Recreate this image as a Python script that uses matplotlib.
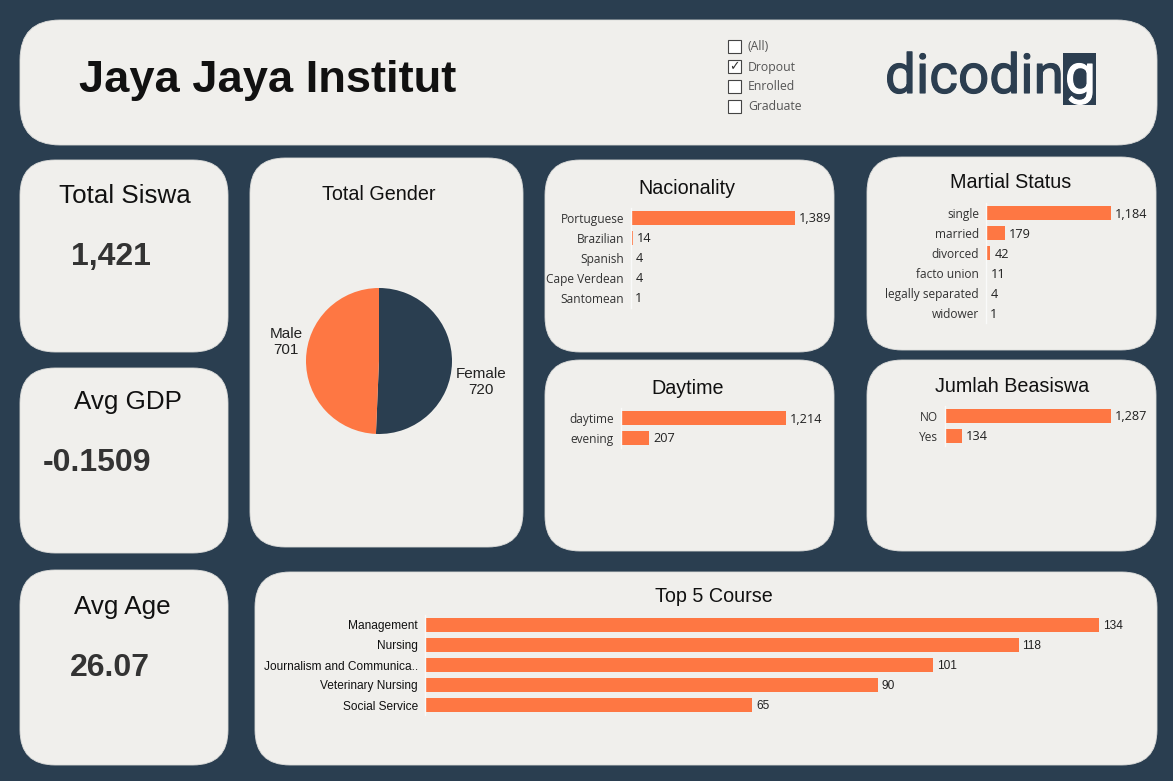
import matplotlib
matplotlib.use("Agg")
import matplotlib.pyplot as plt
import matplotlib.patheffects as pe
from matplotlib.patches import FancyBboxPatch, Rectangle

# ---------------- data ----------------
title_text = "Jaya Jaya Institut"
filter_items = ["(All)", "Dropout", "Enrolled", "Graduate"]
filter_checked = [False, True, False, False]

kpi_titles = ["Total Siswa", "Avg GDP", "Avg Age"]
kpi_values = ["1,421", "-0.1509", "26.07"]

gender_cats = ["Female", "Male"]
gender_vals = [720, 701]

nation_cats = ["Portuguese", "Brazilian", "Spanish", "Cape Verdean", "Santomean"]
nation_vals = [1389, 14, 4, 4, 1]

marital_cats = ["single", "married", "divorced", "facto union", "legally separated", "widower"]
marital_vals = [1184, 179, 42, 11, 4, 1]

daytime_cats = ["daytime", "evening"]
daytime_vals = [1214, 207]

beasiswa_cats = ["NO", "Yes"]
beasiswa_vals = [1287, 134]

course_cats = ["Management", "Nursing", "Journalism and Communica..", "Veterinary Nursing", "Social Service"]
course_vals = [134, 118, 101, 90, 65]

# ---------------- style ----------------
W, H = 1173, 781
NAVY = "#2a3e50"
CARD = "#f0efec"
ORANGE = "#fe7743"
ARIAL = ["Liberation Sans", "DejaVu Sans"]
TAB = ["Open Sans", "DejaVu Sans"]
LOGO = ["Roboto", "DejaVu Sans"]

fig = plt.figure(figsize=(W / 100, H / 100), dpi=100)
fig.patch.set_facecolor(NAVY)
bg = fig.add_axes([0, 0, 1, 1])
bg.set_xlim(0, W)
bg.set_ylim(H, 0)
bg.axis("off")
bg.set_zorder(0)


def card(x0, y0, x1, y1, r=35):
    bg.add_patch(FancyBboxPatch((x0, y0), x1 - x0, y1 - y0,
                                boxstyle=f"round,pad=0,rounding_size={r}",
                                fc=CARD, ec="#dcdcda", lw=0.6))


# cards
card(20, 20, 1157, 145, 40)
card(20, 160, 228, 352)
card(20, 368, 228, 553)
card(20, 570, 228, 765)
card(250, 158, 523, 547)
card(545, 160, 834, 352)
card(545, 360, 834, 551)
card(867, 157, 1156, 350)
card(867, 360, 1156, 551)
card(255, 572, 1157, 765)

# header
bg.text(268, 92, title_text, fontsize=32.6, fontweight="bold", family=ARIAL,
        color="#111111", ha="center", va="baseline")
for i, (lab, chk) in enumerate(zip(filter_items, filter_checked)):
    yc = 46 + 20 * i
    bg.add_patch(Rectangle((728, yc - 6.5), 13, 13, fc="white", ec="#444444", lw=0.8))
    if chk:
        bg.text(734.5, yc + 0.5, "\u2713", fontsize=9, color="#333333",
                ha="center", va="center", family=["DejaVu Sans"])
    bg.text(748, yc + 1, lab, fontsize=8.8, color="#555555", ha="left", va="center", family=TAB)

# logo
LOGO_C = "#2c3e50"
bg.text(885, 93, "dicodin", fontsize=39.5, color=LOGO_C, ha="left", va="baseline",
        family=LOGO, fontweight="normal",
        path_effects=[pe.withStroke(linewidth=0.8, foreground=LOGO_C)])
bg.add_patch(Rectangle((1063, 53), 33, 52, fc=LOGO_C, ec="none"))
bg.text(1065, 93, "g", fontsize=39.5, color="white", ha="left", va="baseline",
        family=LOGO, fontweight="normal",
        path_effects=[pe.withStroke(linewidth=0.8, foreground="white")])

# KPI cards
kpi_title_pos = [(125, 196), (128, 402), (122, 607)]
kpi_val_pos = [(111, 257), (97, 463), (110, 668)]
for t, v, tp, vp in zip(kpi_titles, kpi_values, kpi_title_pos, kpi_val_pos):
    bg.text(tp[0], tp[1], t, fontsize=18.7, family=ARIAL, color="#111111",
            ha="center", va="center")
    bg.text(vp[0], vp[1], v, fontsize=23, fontweight="bold", family=ARIAL,
            color="#333333", ha="center", va="center")

# section titles
for txt, x, y in [("Total Gender", 379, 195), ("Nacionality", 687, 188),
                  ("Daytime", 688, 388), ("Martial Status", 1011, 183),
                  ("Jumlah Beasiswa", 1012, 386), ("Top 5 Course", 714, 596)]:
    bg.text(x, y, txt, fontsize=14.2, family=ARIAL, color="#111111",
            ha="center", va="center")

# pie
pr = 73
pax = fig.add_axes([(379 - pr) / W, 1 - (361 + pr) / H, 2 * pr / W, 2 * pr / H])
pax.pie(gender_vals, colors=[NAVY, ORANGE], startangle=90, counterclock=False,
        wedgeprops=dict(lw=0))
pax.set_xlim(-1, 1)
pax.set_ylim(-1, 1)
pax.axis("off")
for cat, val, (x, y) in zip(gender_cats, gender_vals, [(481, 382), (286, 342)]):
    bg.text(x, y, f"{cat}\n{val}", fontsize=11, family=ARIAL, color="#222222",
            ha="center", va="center", linespacing=1.15)


def bars(x_start, y_first, px_per_unit, span_px, cats, vals,
         lab_family, lab_fs, val_family, val_fs, lab_color="#333333", bh=0.7):
    n = len(cats)
    top = y_first - 10
    height = 20 * n
    ax = fig.add_axes([x_start / W, 1 - (top + height) / H, span_px / W, height / H])
    ax.patch.set_alpha(0)
    ax.barh(range(n), vals, height=bh, color=ORANGE)
    ax.set_xlim(0, span_px / px_per_unit)
    ax.set_ylim(n - 0.5, -0.5)
    ax.set_yticks(range(n))
    ax.set_yticklabels(cats, fontsize=lab_fs, family=lab_family, color=lab_color)
    ax.tick_params(axis="y", length=0, pad=5)
    ax.set_xticks([])
    for s in ["top", "right", "bottom"]:
        ax.spines[s].set_visible(False)
    ax.spines["left"].set_color("#fafafa")
    ax.spines["left"].set_linewidth(1)
    for i, v in enumerate(vals):
        ax.annotate(f"{v:,}", (v, i), xytext=(4, -1), textcoords="offset pixels",
                    va="center", ha="left", fontsize=val_fs, family=val_family,
                    color="#222222", annotation_clip=False)
    return ax


bars(631, 218, 164 / 1389, 200, nation_cats, nation_vals, TAB, 8.6, TAB, 9.2)
bars(986, 213, 125 / 1184, 160, marital_cats, marital_vals, TAB, 8.6, TAB, 9.2)
bars(621, 418, 165 / 1214, 200, daytime_cats, daytime_vals, TAB, 8.6, TAB, 9.2)
bars(945, 416, 166 / 1287, 200, beasiswa_cats, beasiswa_vals, TAB, 8.6, TAB, 9.2)
bars(425, 625, 674 / 134, 720, course_cats, course_vals, ARIAL, 8.6, ARIAL, 8.6,
     lab_color="#111111", bh=0.72)

fig.savefig("out.png", dpi=100, facecolor=fig.get_facecolor())
